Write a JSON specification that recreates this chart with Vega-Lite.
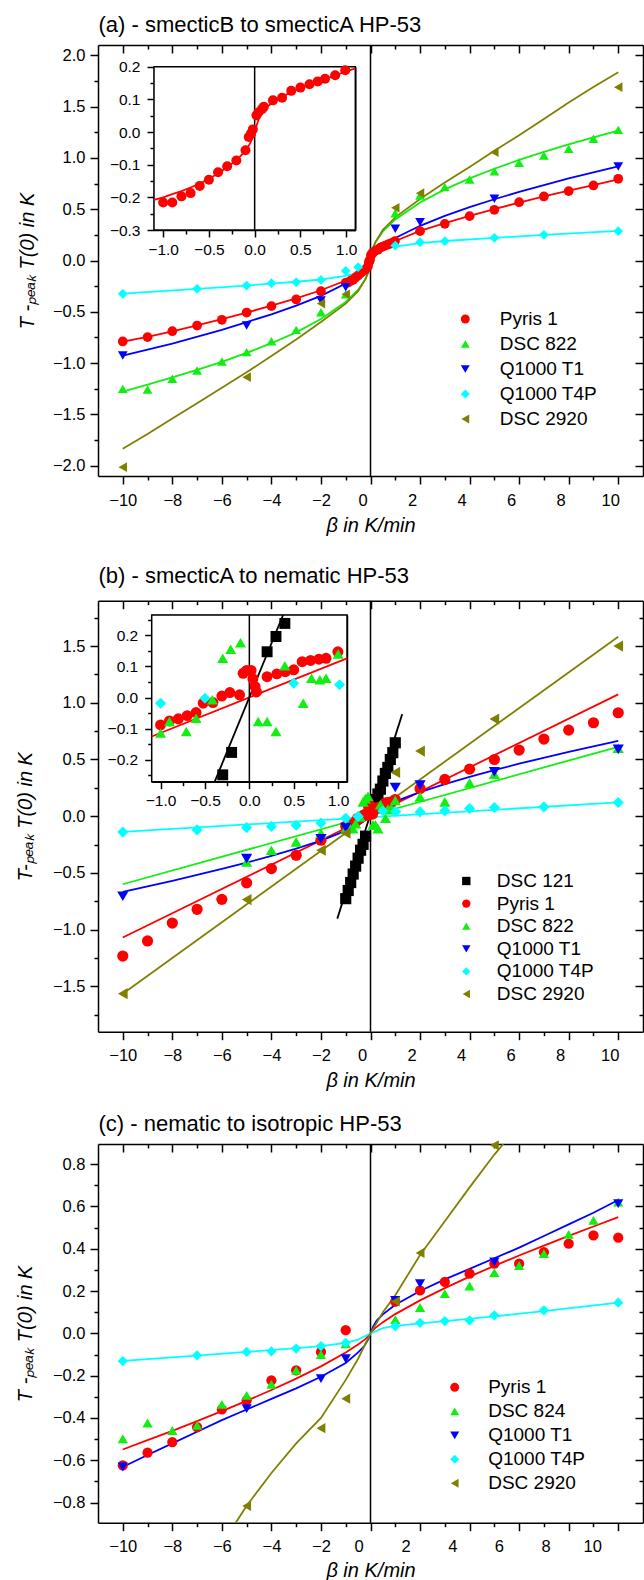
{
"$schema":"https://vega.github.io/schema/vega-lite/v6.json",
"autosize":{"type":"none"},
"width":545,"height":1477.7,
"padding":{"left":98,"top":45,"right":1,"bottom":57.3},
"background":"white",
"config":{"font":"Liberation Sans","view":{"stroke":null},
"axis":{"domainColor":"black","domainWidth":1.5,"tickColor":"black","tickWidth":1.5,"labelColor":"black","labelFont":"Liberation Sans","labelFontSize":16.5,"titleFont":"Liberation Sans","titleFontSize":20,"titleFontStyle":"italic","titleFontWeight":"normal","titleColor":"black","grid":false,"labelPadding":5},
"legend":{"labelFont":"Liberation Sans","labelFontSize":19,"labelColor":"black"}},
"datasets":{
"a_pts":[
{"s":"Pyris 1","x":-10,"y":-0.789},{"s":"Pyris 1","x":-9,"y":-0.747},{"s":"Pyris 1","x":-8,"y":-0.689},{"s":"Pyris 1","x":-7,"y":-0.634},{"s":"Pyris 1","x":-6,"y":-0.578},{"s":"Pyris 1","x":-5,"y":-0.507},{"s":"Pyris 1","x":-4,"y":-0.445},{"s":"Pyris 1","x":-3,"y":-0.38},{"s":"Pyris 1","x":-2,"y":-0.299},
{"s":"Pyris 1","x":-1.0,"y":-0.216},{"s":"Pyris 1","x":-0.9,"y":-0.216},{"s":"Pyris 1","x":-0.8,"y":-0.197},{"s":"Pyris 1","x":-0.7,"y":-0.187},{"s":"Pyris 1","x":-0.6,"y":-0.165},{"s":"Pyris 1","x":-0.5,"y":-0.146},{"s":"Pyris 1","x":-0.4,"y":-0.123},{"s":"Pyris 1","x":-0.3,"y":-0.105},{"s":"Pyris 1","x":-0.2,"y":-0.087},{"s":"Pyris 1","x":-0.1,"y":-0.056},{"s":"Pyris 1","x":-0.065,"y":-0.015},{"s":"Pyris 1","x":-0.04,"y":-0.005},{"s":"Pyris 1","x":-0.02,"y":0.008},{"s":"Pyris 1","x":0.02,"y":0.051},{"s":"Pyris 1","x":0.04,"y":0.06},{"s":"Pyris 1","x":0.08,"y":0.07},{"s":"Pyris 1","x":0.1,"y":0.077},{"s":"Pyris 1","x":0.2,"y":0.097},{"s":"Pyris 1","x":0.3,"y":0.105},{"s":"Pyris 1","x":0.4,"y":0.126},{"s":"Pyris 1","x":0.5,"y":0.136},{"s":"Pyris 1","x":0.6,"y":0.146},{"s":"Pyris 1","x":0.69,"y":0.155},{"s":"Pyris 1","x":0.77,"y":0.163},{"s":"Pyris 1","x":0.88,"y":0.174},{"s":"Pyris 1","x":0.99,"y":0.189},
{"s":"Pyris 1","x":2,"y":0.286},{"s":"Pyris 1","x":3,"y":0.357},{"s":"Pyris 1","x":4,"y":0.432},{"s":"Pyris 1","x":5,"y":0.494},{"s":"Pyris 1","x":6,"y":0.568},{"s":"Pyris 1","x":7,"y":0.624},{"s":"Pyris 1","x":8,"y":0.676},{"s":"Pyris 1","x":9,"y":0.731},{"s":"Pyris 1","x":10,"y":0.796},
{"s":"DSC 822","x":-10,"y":-1.251},{"s":"DSC 822","x":-9,"y":-1.257},{"s":"DSC 822","x":-8,"y":-1.153},{"s":"DSC 822","x":-7,"y":-1.072},{"s":"DSC 822","x":-6,"y":-0.985},{"s":"DSC 822","x":-5,"y":-0.893},{"s":"DSC 822","x":-4,"y":-0.786},{"s":"DSC 822","x":-3,"y":-0.676},{"s":"DSC 822","x":-2,"y":-0.504},{"s":"DSC 822","x":-1,"y":-0.33},{"s":"DSC 822","x":1,"y":0.46},{"s":"DSC 822","x":2,"y":0.634},{"s":"DSC 822","x":3,"y":0.715},{"s":"DSC 822","x":4,"y":0.789},{"s":"DSC 822","x":5,"y":0.87},{"s":"DSC 822","x":6,"y":0.952},{"s":"DSC 822","x":7,"y":1.023},{"s":"DSC 822","x":8,"y":1.088},{"s":"DSC 822","x":9,"y":1.186},{"s":"DSC 822","x":10,"y":1.273},
{"s":"Q1000 T1","x":-10,"y":-0.926},{"s":"Q1000 T1","x":-5,"y":-0.634},{"s":"Q1000 T1","x":-2,"y":-0.39},{"s":"Q1000 T1","x":-1,"y":-0.26},{"s":"Q1000 T1","x":1,"y":0.309},{"s":"Q1000 T1","x":2,"y":0.374},{"s":"Q1000 T1","x":5,"y":0.601},{"s":"Q1000 T1","x":10,"y":0.916},
{"s":"Q1000 T4P","x":-10,"y":-0.325},{"s":"Q1000 T4P","x":-7,"y":-0.276},{"s":"Q1000 T4P","x":-5,"y":-0.244},{"s":"Q1000 T4P","x":-4,"y":-0.221},{"s":"Q1000 T4P","x":-3,"y":-0.211},{"s":"Q1000 T4P","x":-2,"y":-0.19},{"s":"Q1000 T4P","x":-1,"y":-0.1},{"s":"Q1000 T4P","x":-0.5,"y":-0.065},{"s":"Q1000 T4P","x":1,"y":0.146},{"s":"Q1000 T4P","x":2,"y":0.178},{"s":"Q1000 T4P","x":3,"y":0.188},{"s":"Q1000 T4P","x":5,"y":0.221},{"s":"Q1000 T4P","x":7,"y":0.25},{"s":"Q1000 T4P","x":10,"y":0.286},
{"s":"DSC 2920","x":-10,"y":-2.014},{"s":"DSC 2920","x":-5,"y":-1.137},{"s":"DSC 2920","x":-2,"y":-0.42},{"s":"DSC 2920","x":-1,"y":-0.33},{"s":"DSC 2920","x":1,"y":0.513},{"s":"DSC 2920","x":2,"y":0.656},{"s":"DSC 2920","x":5,"y":1.056},{"s":"DSC 2920","x":10,"y":1.689}
],
"a_fit":[
{"s":"Pyris 1","x":-10,"y":-0.79},{"s":"Pyris 1","x":-9,"y":-0.745},{"s":"Pyris 1","x":-8,"y":-0.69},{"s":"Pyris 1","x":-7,"y":-0.632},{"s":"Pyris 1","x":-6,"y":-0.572},{"s":"Pyris 1","x":-5,"y":-0.508},{"s":"Pyris 1","x":-4,"y":-0.44},{"s":"Pyris 1","x":-3,"y":-0.37},{"s":"Pyris 1","x":-2,"y":-0.29},{"s":"Pyris 1","x":-1,"y":-0.195},{"s":"Pyris 1","x":-0.5,"y":-0.13},{"s":"Pyris 1","x":-0.2,"y":-0.075},{"s":"Pyris 1","x":-0.05,"y":-0.03},{"s":"Pyris 1","x":0,"y":0},{"s":"Pyris 1","x":0.05,"y":0.03},{"s":"Pyris 1","x":0.2,"y":0.072},{"s":"Pyris 1","x":0.5,"y":0.125},{"s":"Pyris 1","x":1,"y":0.19},{"s":"Pyris 1","x":2,"y":0.288},{"s":"Pyris 1","x":3,"y":0.365},{"s":"Pyris 1","x":4,"y":0.435},{"s":"Pyris 1","x":5,"y":0.5},{"s":"Pyris 1","x":6,"y":0.565},{"s":"Pyris 1","x":7,"y":0.625},{"s":"Pyris 1","x":8,"y":0.68},{"s":"Pyris 1","x":9,"y":0.735},{"s":"Pyris 1","x":10,"y":0.79},
{"s":"Q1000 T1","x":-10,"y":-0.926},{"s":"Q1000 T1","x":-8,"y":-0.81},{"s":"Q1000 T1","x":-6,"y":-0.675},{"s":"Q1000 T1","x":-5,"y":-0.6},{"s":"Q1000 T1","x":-4,"y":-0.525},{"s":"Q1000 T1","x":-3,"y":-0.44},{"s":"Q1000 T1","x":-2,"y":-0.345},{"s":"Q1000 T1","x":-1,"y":-0.225},{"s":"Q1000 T1","x":-0.5,"y":-0.145},{"s":"Q1000 T1","x":-0.2,"y":-0.082},{"s":"Q1000 T1","x":-0.05,"y":-0.035},{"s":"Q1000 T1","x":0,"y":0},{"s":"Q1000 T1","x":0.05,"y":0.034},{"s":"Q1000 T1","x":0.2,"y":0.081},{"s":"Q1000 T1","x":0.5,"y":0.143},{"s":"Q1000 T1","x":1,"y":0.22},{"s":"Q1000 T1","x":2,"y":0.338},{"s":"Q1000 T1","x":3,"y":0.435},{"s":"Q1000 T1","x":4,"y":0.52},{"s":"Q1000 T1","x":5,"y":0.597},{"s":"Q1000 T1","x":6,"y":0.668},{"s":"Q1000 T1","x":8,"y":0.8},{"s":"Q1000 T1","x":10,"y":0.917},
{"s":"DSC 822","x":-10,"y":-1.277},{"s":"DSC 822","x":-9,"y":-1.21},{"s":"DSC 822","x":-8,"y":-1.14},{"s":"DSC 822","x":-7,"y":-1.066},{"s":"DSC 822","x":-6,"y":-0.988},{"s":"DSC 822","x":-5,"y":-0.9},{"s":"DSC 822","x":-4,"y":-0.806},{"s":"DSC 822","x":-3,"y":-0.7},{"s":"DSC 822","x":-2,"y":-0.571},{"s":"DSC 822","x":-1,"y":-0.404},{"s":"DSC 822","x":-0.5,"y":-0.285},{"s":"DSC 822","x":-0.2,"y":-0.18},{"s":"DSC 822","x":-0.05,"y":-0.09},{"s":"DSC 822","x":0,"y":0},{"s":"DSC 822","x":0.05,"y":0.089},{"s":"DSC 822","x":0.2,"y":0.179},{"s":"DSC 822","x":0.5,"y":0.283},{"s":"DSC 822","x":1,"y":0.4},{"s":"DSC 822","x":2,"y":0.566},{"s":"DSC 822","x":3,"y":0.693},{"s":"DSC 822","x":4,"y":0.8},{"s":"DSC 822","x":5,"y":0.894},{"s":"DSC 822","x":6,"y":0.98},{"s":"DSC 822","x":7,"y":1.058},{"s":"DSC 822","x":8,"y":1.131},{"s":"DSC 822","x":9,"y":1.2},{"s":"DSC 822","x":10,"y":1.265},
{"s":"Q1000 T4P","x":-10,"y":-0.322},{"s":"Q1000 T4P","x":-7,"y":-0.276},{"s":"Q1000 T4P","x":-5,"y":-0.244},{"s":"Q1000 T4P","x":-4,"y":-0.225},{"s":"Q1000 T4P","x":-3,"y":-0.207},{"s":"Q1000 T4P","x":-2,"y":-0.185},{"s":"Q1000 T4P","x":-1,"y":-0.15},{"s":"Q1000 T4P","x":-0.5,"y":-0.12},{"s":"Q1000 T4P","x":-0.2,"y":-0.085},{"s":"Q1000 T4P","x":-0.05,"y":-0.045},{"s":"Q1000 T4P","x":0,"y":0},{"s":"Q1000 T4P","x":0.05,"y":0.045},{"s":"Q1000 T4P","x":0.2,"y":0.08},{"s":"Q1000 T4P","x":0.5,"y":0.105},{"s":"Q1000 T4P","x":1,"y":0.135},{"s":"Q1000 T4P","x":2,"y":0.17},{"s":"Q1000 T4P","x":3,"y":0.19},{"s":"Q1000 T4P","x":5,"y":0.22},{"s":"Q1000 T4P","x":7,"y":0.25},{"s":"Q1000 T4P","x":10,"y":0.288},
{"s":"DSC 2920","x":-10,"y":-1.835},{"s":"DSC 2920","x":-9,"y":-1.69},{"s":"DSC 2920","x":-8,"y":-1.54},{"s":"DSC 2920","x":-7,"y":-1.39},{"s":"DSC 2920","x":-6,"y":-1.24},{"s":"DSC 2920","x":-5,"y":-1.09},{"s":"DSC 2920","x":-4,"y":-0.93},{"s":"DSC 2920","x":-3,"y":-0.77},{"s":"DSC 2920","x":-2,"y":-0.6},{"s":"DSC 2920","x":-1,"y":-0.42},{"s":"DSC 2920","x":-0.5,"y":-0.3},{"s":"DSC 2920","x":-0.2,"y":-0.18},{"s":"DSC 2920","x":-0.05,"y":-0.09},{"s":"DSC 2920","x":0,"y":0},{"s":"DSC 2920","x":0.05,"y":0.09},{"s":"DSC 2920","x":0.2,"y":0.18},{"s":"DSC 2920","x":0.5,"y":0.3},{"s":"DSC 2920","x":1,"y":0.42},{"s":"DSC 2920","x":2,"y":0.6},{"s":"DSC 2920","x":3,"y":0.76},{"s":"DSC 2920","x":4,"y":0.91},{"s":"DSC 2920","x":5,"y":1.07},{"s":"DSC 2920","x":6,"y":1.22},{"s":"DSC 2920","x":7,"y":1.38},{"s":"DSC 2920","x":8,"y":1.54},{"s":"DSC 2920","x":9,"y":1.69},{"s":"DSC 2920","x":10,"y":1.835}
],
"a_infit":[
{"s":"Pyris 1","x":-1.1,"y":-0.208},{"s":"Pyris 1","x":-1.0,"y":-0.2},{"s":"Pyris 1","x":-0.9,"y":-0.19},{"s":"Pyris 1","x":-0.8,"y":-0.181},{"s":"Pyris 1","x":-0.7,"y":-0.17},{"s":"Pyris 1","x":-0.6,"y":-0.158},{"s":"Pyris 1","x":-0.5,"y":-0.143},{"s":"Pyris 1","x":-0.4,"y":-0.127},{"s":"Pyris 1","x":-0.3,"y":-0.108},{"s":"Pyris 1","x":-0.2,"y":-0.087},{"s":"Pyris 1","x":-0.1,"y":-0.058},{"s":"Pyris 1","x":-0.05,"y":-0.035},{"s":"Pyris 1","x":0,"y":0},{"s":"Pyris 1","x":0.05,"y":0.045},{"s":"Pyris 1","x":0.1,"y":0.068},{"s":"Pyris 1","x":0.2,"y":0.092},{"s":"Pyris 1","x":0.3,"y":0.108},{"s":"Pyris 1","x":0.4,"y":0.122},{"s":"Pyris 1","x":0.5,"y":0.134},{"s":"Pyris 1","x":0.6,"y":0.145},{"s":"Pyris 1","x":0.7,"y":0.155},{"s":"Pyris 1","x":0.8,"y":0.165},{"s":"Pyris 1","x":0.9,"y":0.175},{"s":"Pyris 1","x":1.0,"y":0.186},{"s":"Pyris 1","x":1.1,"y":0.195}
],
"b_pts":[
{"s":"DSC 121","x":-1,"y":-0.727},{"s":"DSC 121","x":-0.9,"y":-0.655},{"s":"DSC 121","x":-0.8,"y":-0.585},{"s":"DSC 121","x":-0.7,"y":-0.51},{"s":"DSC 121","x":-0.6,"y":-0.44},{"s":"DSC 121","x":-0.5,"y":-0.37},{"s":"DSC 121","x":-0.4,"y":-0.3},{"s":"DSC 121","x":-0.3,"y":-0.248},{"s":"DSC 121","x":-0.2,"y":-0.176},{"s":"DSC 121","x":0.2,"y":0.147},{"s":"DSC 121","x":0.3,"y":0.196},{"s":"DSC 121","x":0.4,"y":0.238},{"s":"DSC 121","x":0.5,"y":0.31},{"s":"DSC 121","x":0.6,"y":0.377},{"s":"DSC 121","x":0.7,"y":0.43},{"s":"DSC 121","x":0.8,"y":0.5},{"s":"DSC 121","x":0.9,"y":0.56},{"s":"DSC 121","x":1,"y":0.647},
{"s":"Pyris 1","x":-10,"y":-1.233},{"s":"Pyris 1","x":-9,"y":-1.1},{"s":"Pyris 1","x":-8,"y":-0.942},{"s":"Pyris 1","x":-7,"y":-0.821},{"s":"Pyris 1","x":-6,"y":-0.733},{"s":"Pyris 1","x":-5,"y":-0.588},{"s":"Pyris 1","x":-4,"y":-0.462},{"s":"Pyris 1","x":-3,"y":-0.344},{"s":"Pyris 1","x":-2,"y":-0.212},
{"s":"Pyris 1","x":-1.0,"y":-0.088},{"s":"Pyris 1","x":-0.9,"y":-0.075},{"s":"Pyris 1","x":-0.8,"y":-0.068},{"s":"Pyris 1","x":-0.7,"y":-0.058},{"s":"Pyris 1","x":-0.6,"y":-0.048},{"s":"Pyris 1","x":-0.52,"y":-0.018},{"s":"Pyris 1","x":-0.41,"y":-0.016},{"s":"Pyris 1","x":-0.31,"y":0.005},{"s":"Pyris 1","x":-0.22,"y":0.016},{"s":"Pyris 1","x":-0.11,"y":0.009},{"s":"Pyris 1","x":-0.07,"y":0.078},{"s":"Pyris 1","x":-0.03,"y":0.087},{"s":"Pyris 1","x":0.02,"y":0.087},{"s":"Pyris 1","x":0.04,"y":0.06},{"s":"Pyris 1","x":0.065,"y":0.035},{"s":"Pyris 1","x":0.08,"y":0.018},{"s":"Pyris 1","x":0.2,"y":0.067},{"s":"Pyris 1","x":0.31,"y":0.076},{"s":"Pyris 1","x":0.405,"y":0.083},{"s":"Pyris 1","x":0.5,"y":0.089},{"s":"Pyris 1","x":0.595,"y":0.115},{"s":"Pyris 1","x":0.69,"y":0.119},{"s":"Pyris 1","x":0.784,"y":0.123},{"s":"Pyris 1","x":0.864,"y":0.126},{"s":"Pyris 1","x":0.997,"y":0.147},
{"s":"Pyris 1","x":2,"y":0.244},{"s":"Pyris 1","x":3,"y":0.324},{"s":"Pyris 1","x":4,"y":0.415},{"s":"Pyris 1","x":5,"y":0.5},{"s":"Pyris 1","x":6,"y":0.583},{"s":"Pyris 1","x":7,"y":0.68},{"s":"Pyris 1","x":8,"y":0.759},{"s":"Pyris 1","x":9,"y":0.824},{"s":"Pyris 1","x":10,"y":0.912},
{"s":"DSC 822","x":-5,"y":-0.403},{"s":"DSC 822","x":-4,"y":-0.3},{"s":"DSC 822","x":-3,"y":-0.227},{"s":"DSC 822","x":-2,"y":-0.15},
{"s":"DSC 822","x":-1.0,"y":-0.114},{"s":"DSC 822","x":-0.9,"y":-0.077},{"s":"DSC 822","x":-0.71,"y":-0.109},{"s":"DSC 822","x":-0.6,"y":-0.066},{"s":"DSC 822","x":-0.416,"y":-0.007},{"s":"DSC 822","x":-0.3,"y":0.126},{"s":"DSC 822","x":-0.21,"y":0.155},{"s":"DSC 822","x":-0.1,"y":0.176},{"s":"DSC 822","x":0.1,"y":-0.077},{"s":"DSC 822","x":0.2,"y":-0.077},{"s":"DSC 822","x":0.3,"y":-0.109},{"s":"DSC 822","x":0.4,"y":0.102},{"s":"DSC 822","x":0.607,"y":-0.018},{"s":"DSC 822","x":0.7,"y":0.062},{"s":"DSC 822","x":0.795,"y":0.057},{"s":"DSC 822","x":0.864,"y":0.062},{"s":"DSC 822","x":1.0,"y":0.14},
{"s":"DSC 822","x":2,"y":0.17},{"s":"DSC 822","x":3,"y":0.126},{"s":"DSC 822","x":4,"y":0.294},{"s":"DSC 822","x":5,"y":0.37},{"s":"DSC 822","x":10,"y":0.6},
{"s":"Q1000 T1","x":-10,"y":-0.706},{"s":"Q1000 T1","x":-5,"y":-0.374},{"s":"Q1000 T1","x":-2,"y":-0.2},{"s":"Q1000 T1","x":-1,"y":-0.1},{"s":"Q1000 T1","x":1,"y":0.253},{"s":"Q1000 T1","x":2,"y":0.274},{"s":"Q1000 T1","x":5,"y":0.391},{"s":"Q1000 T1","x":10,"y":0.589},
{"s":"Q1000 T4P","x":-10,"y":-0.14},{"s":"Q1000 T4P","x":-7,"y":-0.12},{"s":"Q1000 T4P","x":-5,"y":-0.1},{"s":"Q1000 T4P","x":-4,"y":-0.09},{"s":"Q1000 T4P","x":-3,"y":-0.08},{"s":"Q1000 T4P","x":-2,"y":-0.06},{"s":"Q1000 T4P","x":-1,"y":-0.018},{"s":"Q1000 T4P","x":-0.5,"y":-0.002},{"s":"Q1000 T4P","x":0.5,"y":0.046},{"s":"Q1000 T4P","x":1.016,"y":0.041},{"s":"Q1000 T4P","x":2,"y":0.038},{"s":"Q1000 T4P","x":3,"y":0.047},{"s":"Q1000 T4P","x":4,"y":0.068},{"s":"Q1000 T4P","x":5,"y":0.077},{"s":"Q1000 T4P","x":7,"y":0.082},{"s":"Q1000 T4P","x":10,"y":0.121},
{"s":"DSC 2920","x":-10,"y":-1.565},{"s":"DSC 2920","x":-5,"y":-0.735},{"s":"DSC 2920","x":-2,"y":-0.3},{"s":"DSC 2920","x":-1,"y":-0.15},{"s":"DSC 2920","x":1,"y":0.386},{"s":"DSC 2920","x":2,"y":0.574},{"s":"DSC 2920","x":5,"y":0.856},{"s":"DSC 2920","x":10,"y":1.5}
],
"b_fit":[
{"s":"DSC 121","x":-1.34,"y":-0.903},{"s":"DSC 121","x":1.28,"y":0.9},
{"s":"Pyris 1","x":-10,"y":-1.07},{"s":"Pyris 1","x":10,"y":1.074},
{"s":"DSC 822","x":-10,"y":-0.6},{"s":"DSC 822","x":10,"y":0.612},
{"s":"Q1000 T1","x":-10,"y":-0.668},{"s":"Q1000 T1","x":-8,"y":-0.57},{"s":"Q1000 T1","x":-6,"y":-0.465},{"s":"Q1000 T1","x":-5,"y":-0.41},{"s":"Q1000 T1","x":-4,"y":-0.35},{"s":"Q1000 T1","x":-3,"y":-0.285},{"s":"Q1000 T1","x":-2,"y":-0.215},{"s":"Q1000 T1","x":-1,"y":-0.13},{"s":"Q1000 T1","x":-0.5,"y":-0.08},{"s":"Q1000 T1","x":0,"y":0},{"s":"Q1000 T1","x":0.5,"y":0.08},{"s":"Q1000 T1","x":1,"y":0.13},{"s":"Q1000 T1","x":2,"y":0.213},{"s":"Q1000 T1","x":3,"y":0.283},{"s":"Q1000 T1","x":4,"y":0.346},{"s":"Q1000 T1","x":5,"y":0.406},{"s":"Q1000 T1","x":6,"y":0.463},{"s":"Q1000 T1","x":8,"y":0.568},{"s":"Q1000 T1","x":10,"y":0.665},
{"s":"Q1000 T4P","x":-10,"y":-0.138},{"s":"Q1000 T4P","x":10,"y":0.121},
{"s":"DSC 2920","x":-10,"y":-1.565},{"s":"DSC 2920","x":10,"y":1.583}
],
"b_infit":[
{"s":"Pyris 1","x":-1.1,"y":-0.125},{"s":"Pyris 1","x":1.1,"y":0.126},
{"s":"DSC 121","x":-0.39,"y":-0.27},{"s":"DSC 121","x":0.38,"y":0.265}
],
"c_pts":[
{"s":"Pyris 1","x":-10,"y":-0.624},{"s":"Pyris 1","x":-9,"y":-0.564},{"s":"Pyris 1","x":-8,"y":-0.514},{"s":"Pyris 1","x":-7,"y":-0.443},{"s":"Pyris 1","x":-6,"y":-0.359},{"s":"Pyris 1","x":-5,"y":-0.317},{"s":"Pyris 1","x":-4,"y":-0.222},{"s":"Pyris 1","x":-3,"y":-0.175},{"s":"Pyris 1","x":-2,"y":-0.088},{"s":"Pyris 1","x":-1,"y":0.015},{"s":"Pyris 1","x":1,"y":0.15},{"s":"Pyris 1","x":2,"y":0.203},{"s":"Pyris 1","x":3,"y":0.243},{"s":"Pyris 1","x":4,"y":0.282},{"s":"Pyris 1","x":5,"y":0.33},{"s":"Pyris 1","x":6,"y":0.329},{"s":"Pyris 1","x":7,"y":0.384},{"s":"Pyris 1","x":8,"y":0.424},{"s":"Pyris 1","x":9,"y":0.463},{"s":"Pyris 1","x":10,"y":0.452},
{"s":"DSC 824","x":-10,"y":-0.498},{"s":"DSC 824","x":-9,"y":-0.424},{"s":"DSC 824","x":-8,"y":-0.459},{"s":"DSC 824","x":-7,"y":-0.435},{"s":"DSC 824","x":-6,"y":-0.336},{"s":"DSC 824","x":-5,"y":-0.293},{"s":"DSC 824","x":-4,"y":-0.241},{"s":"DSC 824","x":-3,"y":-0.175},{"s":"DSC 824","x":-2,"y":-0.1},{"s":"DSC 824","x":-1,"y":-0.049},{"s":"DSC 824","x":1,"y":0.065},{"s":"DSC 824","x":2,"y":0.122},{"s":"DSC 824","x":3,"y":0.188},{"s":"DSC 824","x":4,"y":0.224},{"s":"DSC 824","x":5,"y":0.287},{"s":"DSC 824","x":6,"y":0.32},{"s":"DSC 824","x":7,"y":0.377},{"s":"DSC 824","x":8,"y":0.468},{"s":"DSC 824","x":9,"y":0.534},{"s":"DSC 824","x":10,"y":0.62},
{"s":"Q1000 T1","x":-10,"y":-0.632},{"s":"Q1000 T1","x":-5,"y":-0.356},{"s":"Q1000 T1","x":-2,"y":-0.214},{"s":"Q1000 T1","x":-1,"y":-0.12},{"s":"Q1000 T1","x":1,"y":0.155},{"s":"Q1000 T1","x":2,"y":0.235},{"s":"Q1000 T1","x":5,"y":0.337},{"s":"Q1000 T1","x":10,"y":0.613},
{"s":"Q1000 T4P","x":-10,"y":-0.131},{"s":"Q1000 T4P","x":-7,"y":-0.104},{"s":"Q1000 T4P","x":-5,"y":-0.088},{"s":"Q1000 T4P","x":-4,"y":-0.085},{"s":"Q1000 T4P","x":-3,"y":-0.072},{"s":"Q1000 T4P","x":-2,"y":-0.06},{"s":"Q1000 T4P","x":-1,"y":-0.045},{"s":"Q1000 T4P","x":1,"y":0.033},{"s":"Q1000 T4P","x":2,"y":0.05},{"s":"Q1000 T4P","x":3,"y":0.058},{"s":"Q1000 T4P","x":4,"y":0.061},{"s":"Q1000 T4P","x":5,"y":0.085},{"s":"Q1000 T4P","x":7,"y":0.109},{"s":"Q1000 T4P","x":10,"y":0.145},
{"s":"DSC 2920","x":-5,"y":-0.816},{"s":"DSC 2920","x":-2,"y":-0.448},{"s":"DSC 2920","x":-1,"y":-0.309},{"s":"DSC 2920","x":1,"y":0.151},{"s":"DSC 2920","x":2,"y":0.38},{"s":"DSC 2920","x":5,"y":0.889}
],
"c_fit":[
{"s":"Pyris 1","x":-10,"y":-0.549},{"s":"Pyris 1","x":-9,"y":-0.505},{"s":"Pyris 1","x":-8,"y":-0.461},{"s":"Pyris 1","x":-7,"y":-0.415},{"s":"Pyris 1","x":-6,"y":-0.368},{"s":"Pyris 1","x":-5,"y":-0.319},{"s":"Pyris 1","x":-4,"y":-0.268},{"s":"Pyris 1","x":-3,"y":-0.214},{"s":"Pyris 1","x":-2,"y":-0.156},{"s":"Pyris 1","x":-1,"y":-0.091},{"s":"Pyris 1","x":-0.5,"y":-0.053},{"s":"Pyris 1","x":-0.2,"y":-0.026},{"s":"Pyris 1","x":-0.05,"y":-0.009},{"s":"Pyris 1","x":0,"y":0},{"s":"Pyris 1","x":0.05,"y":0.009},{"s":"Pyris 1","x":0.2,"y":0.026},{"s":"Pyris 1","x":0.5,"y":0.053},{"s":"Pyris 1","x":1,"y":0.091},{"s":"Pyris 1","x":2,"y":0.156},{"s":"Pyris 1","x":3,"y":0.214},{"s":"Pyris 1","x":4,"y":0.268},{"s":"Pyris 1","x":5,"y":0.319},{"s":"Pyris 1","x":6,"y":0.368},{"s":"Pyris 1","x":7,"y":0.415},{"s":"Pyris 1","x":8,"y":0.461},{"s":"Pyris 1","x":9,"y":0.505},{"s":"Pyris 1","x":10,"y":0.549},
{"s":"Q1000 T1","x":-10,"y":-0.632},{"s":"Q1000 T1","x":-9,"y":-0.575},{"s":"Q1000 T1","x":-8,"y":-0.52},{"s":"Q1000 T1","x":-7,"y":-0.465},{"s":"Q1000 T1","x":-6,"y":-0.41},{"s":"Q1000 T1","x":-5,"y":-0.36},{"s":"Q1000 T1","x":-4,"y":-0.31},{"s":"Q1000 T1","x":-3,"y":-0.26},{"s":"Q1000 T1","x":-2,"y":-0.205},{"s":"Q1000 T1","x":-1,"y":-0.14},{"s":"Q1000 T1","x":-0.5,"y":-0.09},{"s":"Q1000 T1","x":-0.25,"y":-0.06},{"s":"Q1000 T1","x":-0.1,"y":-0.03},{"s":"Q1000 T1","x":0,"y":0},{"s":"Q1000 T1","x":0.1,"y":0.03},{"s":"Q1000 T1","x":0.25,"y":0.06},{"s":"Q1000 T1","x":0.5,"y":0.09},{"s":"Q1000 T1","x":1,"y":0.135},{"s":"Q1000 T1","x":2,"y":0.2},{"s":"Q1000 T1","x":3,"y":0.255},{"s":"Q1000 T1","x":4,"y":0.305},{"s":"Q1000 T1","x":5,"y":0.355},{"s":"Q1000 T1","x":6,"y":0.405},{"s":"Q1000 T1","x":7,"y":0.46},{"s":"Q1000 T1","x":8,"y":0.515},{"s":"Q1000 T1","x":9,"y":0.57},{"s":"Q1000 T1","x":10,"y":0.63},
{"s":"Q1000 T4P","x":-10,"y":-0.13},{"s":"Q1000 T4P","x":-7,"y":-0.105},{"s":"Q1000 T4P","x":-5,"y":-0.088},{"s":"Q1000 T4P","x":-3,"y":-0.07},{"s":"Q1000 T4P","x":-2,"y":-0.06},{"s":"Q1000 T4P","x":-1,"y":-0.045},{"s":"Q1000 T4P","x":-0.5,"y":-0.03},{"s":"Q1000 T4P","x":0,"y":0},{"s":"Q1000 T4P","x":0.5,"y":0.025},{"s":"Q1000 T4P","x":1,"y":0.035},{"s":"Q1000 T4P","x":2,"y":0.047},{"s":"Q1000 T4P","x":3,"y":0.058},{"s":"Q1000 T4P","x":5,"y":0.08},{"s":"Q1000 T4P","x":7,"y":0.105},{"s":"Q1000 T4P","x":10,"y":0.145},
{"s":"DSC 2920","x":-5.44,"y":-0.895},{"s":"DSC 2920","x":-5,"y":-0.815},{"s":"DSC 2920","x":-4,"y":-0.66},{"s":"DSC 2920","x":-3,"y":-0.52},{"s":"DSC 2920","x":-2,"y":-0.4},{"s":"DSC 2920","x":-1,"y":-0.22},{"s":"DSC 2920","x":-0.5,"y":-0.12},{"s":"DSC 2920","x":0,"y":0},{"s":"DSC 2920","x":0.5,"y":0.1},{"s":"DSC 2920","x":1,"y":0.18},{"s":"DSC 2920","x":2,"y":0.37},{"s":"DSC 2920","x":3,"y":0.53},{"s":"DSC 2920","x":4,"y":0.69},{"s":"DSC 2920","x":5,"y":0.845},{"s":"DSC 2920","x":5.36,"y":0.895}
]
},
"resolve":{"scale":{"x":"independent","y":"independent","color":"independent","shape":"independent","stroke":"independent"},"axis":{"x":"independent","y":"independent"}},
"layer":[
{"data":{"values":[{"x":0,"y":-2.1,"y2":2.1}]},"mark":{"type":"rule","color":"black","strokeWidth":1.5},
"encoding":{"x":{"field":"x","type":"quantitative","scale":{"domain":[-11,11],"range":[0,545],"nice":false,"zero":false},
"axis":{"orient":"top","offset":0,"domain":false,"ticks":false,"labels":false,"title":"(a) - smecticB to smecticA HP-53","titleAnchor":"start","titleAlign":"left","titleBaseline":"middle","titleY":-21,"titleFontSize":22,"titleFontStyle":"normal"}},
"y":{"field":"y","type":"quantitative","scale":{"domain":[-2.1,2.1],"range":[431,0],"nice":false,"zero":false},"axis":null},"y2":{"field":"y2"}}},
{"data":{"name":"a_fit"},"mark":{"type":"line","strokeWidth":1.8},
"encoding":{
"x":{"field":"x","type":"quantitative","scale":{"domain":[-11,11],"range":[0,545],"nice":false,"zero":false},
"axis":{"orient":"bottom","offset":-1046.7,"values":[-10,-9,-8,-7,-6,-5,-4,-3,-2,-1,0,1,2,3,4,5,6,7,8,9,10],"format":"d","labelExpr":"datum.value % 2 == 0 ? datum.label : ''","tickSize":{"condition":{"test":"datum.value % 2 != 0","value":4},"value":8},"labelOffset":{"condition":{"test":"datum.value >= 0","value":-8},"value":0},"labelFlush":false,"labelOverlap":false,"labelPadding":8,"title":"β in K/min","titleY":49,"titleBaseline":"middle"}},
"y":{"field":"y","type":"quantitative","scale":{"domain":[-2.1,2.1],"range":[431,0],"nice":false,"zero":false},
"axis":{"orient":"left","offset":0,"values":[-2,-1.75,-1.5,-1.25,-1,-0.75,-0.5,-0.25,0,0.25,0.5,0.75,1,1.25,1.5,1.75,2],"format":".1f","labelExpr":"abs(datum.value*2-round(datum.value*2))<0.01 ? datum.label : ''","tickSize":{"condition":{"test":"abs(datum.value*2-round(datum.value*2))>0.01","value":4},"value":8},"labelOverlap":false,"title":"T -ₚₑₐₖ T(0)  in K","titleX":-71,"titleBaseline":"middle"}},
"stroke":{"field":"s","type":"nominal","scale":{"domain":["DSC 2920","Q1000 T4P","Q1000 T1","DSC 822","Pyris 1"],"range":["#808000","#00FFFF","#0000FF","#11EE11","#FF0000"]},"legend":null}}},
{"data":{"name":"a_pts"},"mark":{"type":"point","filled":true,"size":95,"opacity":1},
"encoding":{
"x":{"field":"x","type":"quantitative","scale":{"domain":[-11,11],"range":[0,545],"nice":false,"zero":false},
"axis":{"orient":"bottom","offset":-1477.7,"values":[-10,-9,-8,-7,-6,-5,-4,-3,-2,-1,0,1,2,3,4,5,6,7,8,9,10],"labels":false,"title":null,"tickSize":{"condition":{"test":"datum.value % 2 != 0","value":4},"value":8}}},
"y":{"field":"y","type":"quantitative","scale":{"domain":[-2.1,2.1],"range":[431,0],"nice":false,"zero":false},
"axis":{"orient":"left","offset":-545,"values":[-2,-1.75,-1.5,-1.25,-1,-0.75,-0.5,-0.25,0,0.25,0.5,0.75,1,1.25,1.5,1.75,2],"labels":false,"title":null,"tickSize":{"condition":{"test":"abs(datum.value*2-round(datum.value*2))>0.01","value":4},"value":8}}},
"color":{"field":"s","type":"nominal","scale":{"domain":["Pyris 1","DSC 822","Q1000 T1","Q1000 T4P","DSC 2920"],"range":["#FF0000","#11EE11","#0000FF","#00FFFF","#808000"]},
"legend":{"orient":"none","legendX":357.8,"legendY":264.5,"title":null,"symbolSize":80,"rowPadding":5,"labelOffset":25,"padding":0,"symbolStrokeWidth":0}},
"shape":{"field":"s","type":"nominal","scale":{"domain":["Pyris 1","DSC 822","Q1000 T1","Q1000 T4P","DSC 2920"],"range":["circle","triangle-up","triangle-down","diamond","triangle-left"]},
"legend":{"orient":"none","legendX":357.8,"legendY":264.5,"title":null,"symbolSize":80,"rowPadding":5,"labelOffset":25,"padding":0,"symbolStrokeWidth":0}}}},
{"data":{"values":[{"x":-1.1,"x2":1.1,"y":-0.3,"y2":0.2}]},"mark":{"type":"rect","fill":"white","stroke":"black","strokeWidth":1.5},
"encoding":{
"x":{"field":"x","type":"quantitative","scale":{"domain":[-1.1,1.1],"range":[56,257.3],"nice":false,"zero":false},
"axis":{"orient":"bottom","offset":-1292.7,"values":[-1,-0.75,-0.5,-0.25,0,0.25,0.5,0.75,1],"format":".1f","labelExpr":"abs(datum.value*2-round(datum.value*2))<0.01 ? datum.label : ''","tickSize":{"condition":{"test":"abs(datum.value*2-round(datum.value*2))>0.01","value":4},"value":7},"labelFlush":false,"labelOverlap":false,"labelFontSize":15.5,"labelPadding":5,"title":null}},
"x2":{"field":"x2"},
"y":{"field":"y","type":"quantitative","scale":{"domain":[-0.3,0.2],"range":[185,21.7],"nice":false,"zero":false},
"axis":{"orient":"left","offset":-56,"values":[-0.3,-0.25,-0.2,-0.15,-0.1,-0.05,0,0.05,0.1,0.15,0.2],"format":".1f","labelExpr":"abs(datum.value*10-round(datum.value*10))<0.01 ? datum.label : ''","tickSize":{"condition":{"test":"abs(datum.value*10-round(datum.value*10))>0.01","value":4},"value":7},"labelOverlap":false,"labelFontSize":15.5,"labelPadding":7,"title":null}},
"y2":{"field":"y2"}}},
{"data":{"values":[{"x":0,"y":-0.3,"y2":0.2}]},"mark":{"type":"rule","color":"black","strokeWidth":1.5},
"encoding":{"x":{"field":"x","type":"quantitative","scale":{"domain":[-1.1,1.1],"range":[56,257.3],"nice":false,"zero":false},"axis":null},"y":{"field":"y","type":"quantitative","scale":{"domain":[-0.3,0.2],"range":[185,21.7],"nice":false,"zero":false},"axis":null},"y2":{"field":"y2"}}},
{"data":{"name":"a_infit"},"mark":{"type":"line","strokeWidth":1.8},
"encoding":{
"x":{"field":"x","type":"quantitative","scale":{"domain":[-1.1,1.1],"range":[56,257.3],"nice":false,"zero":false},
"axis":{"orient":"bottom","offset":-1456,"values":[-1,-0.75,-0.5,-0.25,0,0.25,0.5,0.75,1],"labels":false,"title":null,"tickSize":{"condition":{"test":"abs(datum.value*2-round(datum.value*2))>0.01","value":4},"value":7}}},
"y":{"field":"y","type":"quantitative","scale":{"domain":[-0.3,0.2],"range":[185,21.7],"nice":false,"zero":false},
"axis":{"orient":"left","offset":-257.3,"values":[-0.3,-0.25,-0.2,-0.15,-0.1,-0.05,0,0.05,0.1,0.15,0.2],"labels":false,"title":null,"tickSize":{"condition":{"test":"abs(datum.value*10-round(datum.value*10))>0.01","value":4},"value":7}}},
"stroke":{"field":"s","type":"nominal","scale":{"domain":["Pyris 1"],"range":["#FF0000"]},"legend":null}}},
{"data":{"name":"a_pts"},"transform":[{"filter":"datum.s == 'Pyris 1' && abs(datum.x) <= 1.05"}],"mark":{"type":"point","filled":true,"size":100,"opacity":1},
"encoding":{"x":{"field":"x","type":"quantitative","scale":{"domain":[-1.1,1.1],"range":[56,257.3],"nice":false,"zero":false},"axis":null},"y":{"field":"y","type":"quantitative","scale":{"domain":[-0.3,0.2],"range":[185,21.7],"nice":false,"zero":false},"axis":null},
"color":{"field":"s","type":"nominal","scale":{"domain":["Pyris 1"],"range":["#FF0000"]},"legend":null},"shape":{"field":"s","type":"nominal","scale":{"domain":["Pyris 1"],"range":["circle"]},"legend":null}}},

{"data":{"values":[{"x":0,"y":-1.9,"y2":1.9}]},"mark":{"type":"rule","color":"black","strokeWidth":1.5},
"encoding":{"x":{"field":"x","type":"quantitative","scale":{"domain":[-11,11],"range":[0,545],"nice":false,"zero":false},
"axis":{"orient":"top","offset":-555.7,"domain":false,"ticks":false,"labels":false,"title":"(b) - smecticA to nematic HP-53","titleAnchor":"start","titleAlign":"left","titleBaseline":"middle","titleY":-25,"titleFontSize":22,"titleFontStyle":"normal"}},
"y":{"field":"y","type":"quantitative","scale":{"domain":[-1.9,1.9],"range":[986.7,555.7],"nice":false,"zero":false},"axis":null},"y2":{"field":"y2"}}},
{"data":{"name":"b_fit"},"mark":{"type":"line","strokeWidth":1.8},
"encoding":{
"x":{"field":"x","type":"quantitative","scale":{"domain":[-11,11],"range":[0,545],"nice":false,"zero":false},
"axis":{"orient":"bottom","offset":-491,"values":[-10,-9,-8,-7,-6,-5,-4,-3,-2,-1,0,1,2,3,4,5,6,7,8,9,10],"format":"d","labelExpr":"datum.value % 2 == 0 ? datum.label : ''","tickSize":{"condition":{"test":"datum.value % 2 != 0","value":4},"value":8},"labelOffset":{"condition":{"test":"datum.value >= 0","value":-8.5},"value":0},"labelFlush":false,"labelOverlap":false,"labelPadding":8,"title":"β in K/min","titleY":49,"titleBaseline":"middle"}},
"y":{"field":"y","type":"quantitative","scale":{"domain":[-1.9,1.9],"range":[986.7,555.7],"nice":false,"zero":false},
"axis":{"orient":"left","offset":0,"values":[-1.75,-1.5,-1.25,-1,-0.75,-0.5,-0.25,0,0.25,0.5,0.75,1,1.25,1.5,1.75],"format":".1f","labelExpr":"abs(datum.value*2-round(datum.value*2))<0.01 ? datum.label : ''","tickSize":{"condition":{"test":"abs(datum.value*2-round(datum.value*2))>0.01","value":4},"value":8},"labelOverlap":false,"title":"T-ₚₑₐₖ T(0) in K","titleX":-73,"titleBaseline":"middle"}},
"stroke":{"field":"s","type":"nominal","scale":{"domain":["DSC 2920","Q1000 T4P","Q1000 T1","DSC 822","Pyris 1","DSC 121"],"range":["#808000","#00FFFF","#0000FF","#11EE11","#FF0000","#000000"]},"legend":null}}},
{"data":{"name":"b_pts"},"mark":{"type":"point","filled":true,"size":125,"opacity":1},
"encoding":{
"x":{"field":"x","type":"quantitative","scale":{"domain":[-11,11],"range":[0,545],"nice":false,"zero":false},
"axis":{"orient":"bottom","offset":-922,"values":[-10,-9,-8,-7,-6,-5,-4,-3,-2,-1,0,1,2,3,4,5,6,7,8,9,10],"labels":false,"title":null,"tickSize":{"condition":{"test":"datum.value % 2 != 0","value":4},"value":8}}},
"y":{"field":"y","type":"quantitative","scale":{"domain":[-1.9,1.9],"range":[986.7,555.7],"nice":false,"zero":false},
"axis":{"orient":"left","offset":-545,"values":[-1.75,-1.5,-1.25,-1,-0.75,-0.5,-0.25,0,0.25,0.5,0.75,1,1.25,1.5,1.75],"labels":false,"title":null,"tickSize":{"condition":{"test":"abs(datum.value*2-round(datum.value*2))>0.01","value":4},"value":8}}},
"color":{"field":"s","type":"nominal","scale":{"domain":["DSC 121","Pyris 1","DSC 822","Q1000 T1","Q1000 T4P","DSC 2920"],"range":["#000000","#FF0000","#11EE11","#0000FF","#00FFFF","#808000"]},
"legend":{"orient":"none","legendX":358.8,"legendY":826.5,"title":null,"symbolSize":70,"rowPadding":2.6,"labelOffset":21,"padding":0,"symbolStrokeWidth":0}},
"shape":{"field":"s","type":"nominal","scale":{"domain":["DSC 121","Pyris 1","DSC 822","Q1000 T1","Q1000 T4P","DSC 2920"],"range":["square","circle","triangle-up","triangle-down","diamond","triangle-left"]},
"legend":{"orient":"none","legendX":358.8,"legendY":826.5,"title":null,"symbolSize":70,"rowPadding":2.6,"labelOffset":21,"padding":0,"symbolStrokeWidth":0}}}},
{"data":{"values":[{"x":-1.1,"x2":1.1,"y":-0.27,"y2":0.265}]},"mark":{"type":"rect","fill":"white","stroke":"black","strokeWidth":1.5},
"encoding":{
"x":{"field":"x","type":"quantitative","scale":{"domain":[-1.1,1.1],"range":[53.7,249],"nice":false,"zero":false},
"axis":{"orient":"bottom","offset":-741,"values":[-1,-0.75,-0.5,-0.25,0,0.25,0.5,0.75,1],"format":".1f","labelExpr":"abs(datum.value*2-round(datum.value*2))<0.01 ? datum.label : ''","tickSize":{"condition":{"test":"abs(datum.value*2-round(datum.value*2))>0.01","value":4},"value":7},"labelFlush":false,"labelOverlap":false,"labelFontSize":15.5,"labelPadding":5,"title":null}},
"x2":{"field":"x2"},
"y":{"field":"y","type":"quantitative","scale":{"domain":[-0.27,0.265],"range":[736.7,570],"nice":false,"zero":false},
"axis":{"orient":"left","offset":-53.7,"values":[-0.25,-0.2,-0.15,-0.1,-0.05,0,0.05,0.1,0.15,0.2,0.25],"format":".1f","labelExpr":"abs(datum.value*10-round(datum.value*10))<0.01 ? datum.label : ''","tickSize":{"condition":{"test":"abs(datum.value*10-round(datum.value*10))>0.01","value":4},"value":7},"labelOverlap":false,"labelFontSize":15.5,"labelPadding":7,"title":null}},
"y2":{"field":"y2"}}},
{"data":{"values":[{"x":0,"y":-0.27,"y2":0.265}]},"mark":{"type":"rule","color":"black","strokeWidth":1.5},
"encoding":{"x":{"field":"x","type":"quantitative","scale":{"domain":[-1.1,1.1],"range":[53.7,249],"nice":false,"zero":false},"axis":null},"y":{"field":"y","type":"quantitative","scale":{"domain":[-0.27,0.265],"range":[736.7,570],"nice":false,"zero":false},"axis":null},"y2":{"field":"y2"}}},
{"data":{"name":"b_infit"},"mark":{"type":"line","strokeWidth":1.8},
"encoding":{
"x":{"field":"x","type":"quantitative","scale":{"domain":[-1.1,1.1],"range":[53.7,249],"nice":false,"zero":false},
"axis":{"orient":"bottom","offset":-907.7,"values":[-1,-0.75,-0.5,-0.25,0,0.25,0.5,0.75,1],"labels":false,"title":null,"tickSize":{"condition":{"test":"abs(datum.value*2-round(datum.value*2))>0.01","value":4},"value":7}}},
"y":{"field":"y","type":"quantitative","scale":{"domain":[-0.27,0.265],"range":[736.7,570],"nice":false,"zero":false},
"axis":{"orient":"left","offset":-249,"values":[-0.25,-0.2,-0.15,-0.1,-0.05,0,0.05,0.1,0.15,0.2,0.25],"labels":false,"title":null,"tickSize":{"condition":{"test":"abs(datum.value*10-round(datum.value*10))>0.01","value":4},"value":7}}},
"stroke":{"field":"s","type":"nominal","scale":{"domain":["DSC 121","Pyris 1"],"range":["#000000","#FF0000"]},"legend":null}}},
{"data":{"name":"b_pts"},"transform":[{"filter":"(datum.s == 'Pyris 1' || datum.s == 'DSC 822' || datum.s == 'Q1000 T4P' || datum.s == 'DSC 121') && abs(datum.x) <= 1.05 && datum.y >= -0.265 && datum.y <= 0.26"}],"mark":{"type":"point","filled":true,"size":120,"opacity":1},
"encoding":{"x":{"field":"x","type":"quantitative","scale":{"domain":[-1.1,1.1],"range":[53.7,249],"nice":false,"zero":false},"axis":null},"y":{"field":"y","type":"quantitative","scale":{"domain":[-0.27,0.265],"range":[736.7,570],"nice":false,"zero":false},"axis":null},
"color":{"field":"s","type":"nominal","scale":{"domain":["DSC 121","Pyris 1","DSC 822","Q1000 T4P"],"range":["#000000","#FF0000","#11EE11","#00FFFF"]},"legend":null},
"shape":{"field":"s","type":"nominal","scale":{"domain":["DSC 121","Pyris 1","DSC 822","Q1000 T4P"],"range":["square","circle","triangle-up","diamond"]},"legend":null}}},

{"data":{"values":[{"x":0,"y":-0.895,"y2":0.895}]},"mark":{"type":"rule","color":"black","strokeWidth":1.5},
"encoding":{"x":{"field":"x","type":"quantitative","scale":{"domain":[-11,11],"range":[0,545],"nice":false,"zero":false},
"axis":{"orient":"top","offset":-1099,"domain":false,"ticks":false,"labels":false,"title":"(c) - nematic to isotropic HP-53","titleAnchor":"start","titleAlign":"left","titleBaseline":"middle","titleY":-21,"titleFontSize":22,"titleFontStyle":"normal"}},
"y":{"field":"y","type":"quantitative","scale":{"domain":[-0.895,0.895],"range":[1477.7,1099],"nice":false,"zero":false},"axis":null},"y2":{"field":"y2"}}},
{"data":{"name":"c_fit"},"mark":{"type":"line","strokeWidth":1.8},
"encoding":{
"x":{"field":"x","type":"quantitative","scale":{"domain":[-11,11],"range":[0,545],"nice":false,"zero":false},
"axis":{"orient":"bottom","offset":0,"values":[-10,-9,-8,-7,-6,-5,-4,-3,-2,-1,0,1,2,3,4,5,6,7,8,9,10],"format":"d","labelExpr":"datum.value % 2 == 0 ? datum.label : ''","tickSize":{"condition":{"test":"datum.value % 2 != 0","value":4},"value":8},"labelOffset":{"condition":[{"test":"datum.value == 0","value":-12},{"test":"datum.value == 2","value":-14.5},{"test":"datum.value == 4","value":-17.3},{"test":"datum.value == 6","value":-20.3},{"test":"datum.value == 8","value":-23},{"test":"datum.value == 10","value":-26}],"value":0},"labelFlush":false,"labelOverlap":false,"labelPadding":8,"title":"β in K/min","titleY":48,"titleBaseline":"middle"}},
"y":{"field":"y","type":"quantitative","scale":{"domain":[-0.895,0.895],"range":[1477.7,1099],"nice":false,"zero":false},
"axis":{"orient":"left","offset":0,"values":[-0.8,-0.7,-0.6,-0.5,-0.4,-0.3,-0.2,-0.1,0,0.1,0.2,0.3,0.4,0.5,0.6,0.7,0.8],"format":".1f","labelExpr":"abs(datum.value*5-round(datum.value*5))<0.01 ? datum.label : ''","tickSize":{"condition":{"test":"abs(datum.value*5-round(datum.value*5))>0.01","value":4},"value":8},"labelOverlap":false,"title":"T -ₚₑₐₖ T(0) in K","titleX":-73,"titleBaseline":"middle"}},
"stroke":{"field":"s","type":"nominal","scale":{"domain":["DSC 2920","Q1000 T4P","Q1000 T1","Pyris 1"],"range":["#808000","#00FFFF","#0000FF","#FF0000"]},"legend":null}}},
{"data":{"name":"c_pts"},"mark":{"type":"point","filled":true,"size":105,"opacity":1},
"encoding":{
"x":{"field":"x","type":"quantitative","scale":{"domain":[-11,11],"range":[0,545],"nice":false,"zero":false},
"axis":{"orient":"bottom","offset":-378.7,"values":[-10,-9,-8,-7,-6,-5,-4,-3,-2,-1,0,1,2,3,4,5,6,7,8,9,10],"labels":false,"title":null,"tickSize":{"condition":{"test":"datum.value % 2 != 0","value":4},"value":8}}},
"y":{"field":"y","type":"quantitative","scale":{"domain":[-0.895,0.895],"range":[1477.7,1099],"nice":false,"zero":false},
"axis":{"orient":"left","offset":-545,"values":[-0.8,-0.7,-0.6,-0.5,-0.4,-0.3,-0.2,-0.1,0,0.1,0.2,0.3,0.4,0.5,0.6,0.7,0.8],"labels":false,"title":null,"tickSize":{"condition":{"test":"abs(datum.value*5-round(datum.value*5))>0.01","value":4},"value":8}}},
"color":{"field":"s","type":"nominal","scale":{"domain":["Pyris 1","DSC 824","Q1000 T1","Q1000 T4P","DSC 2920"],"range":["#FF0000","#11EE11","#0000FF","#00FFFF","#808000"]},
"legend":{"orient":"none","legendX":347.2,"legendY":1332.8,"title":null,"symbolSize":80,"rowPadding":4,"labelOffset":24,"padding":0,"symbolStrokeWidth":0}},
"shape":{"field":"s","type":"nominal","scale":{"domain":["Pyris 1","DSC 824","Q1000 T1","Q1000 T4P","DSC 2920"],"range":["circle","triangle-up","triangle-down","diamond","triangle-left"]},
"legend":{"orient":"none","legendX":347.2,"legendY":1332.8,"title":null,"symbolSize":80,"rowPadding":4,"labelOffset":24,"padding":0,"symbolStrokeWidth":0}}}}
]
}
